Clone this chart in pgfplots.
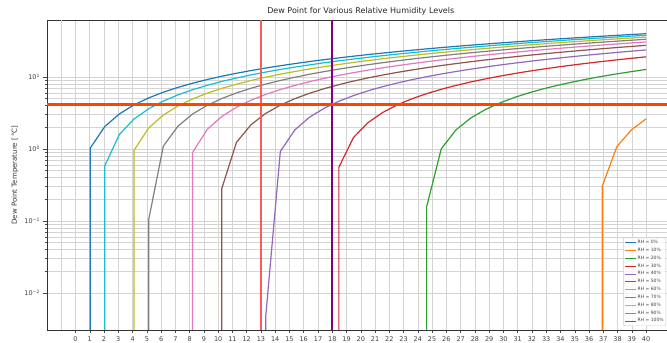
\documentclass[border=0pt]{standalone}
\usepackage{pgfplots}
\pgfplotsset{compat=1.18}
\usepackage{fontspec}
\setmainfont{DejaVu Sans}
\definecolor{c0}{HTML}{1F77B4}
\definecolor{c1}{HTML}{FF7F0E}
\definecolor{c2}{HTML}{2CA02C}
\definecolor{c3}{HTML}{D62728}
\definecolor{c4}{HTML}{9467BD}
\definecolor{c5}{HTML}{8C564B}
\definecolor{c6}{HTML}{E377C2}
\definecolor{c7}{HTML}{7F7F7F}
\definecolor{c8}{HTML}{BCBD22}
\definecolor{c9}{HTML}{17BECF}
\definecolor{vred}{HTML}{FF5A5A}
\definecolor{vpurple}{HTML}{800080}
\definecolor{horange}{HTML}{FF4500}
\begin{document}
\begin{tikzpicture}
\begin{axis}[
  name=ax, scale only axis, width=627.6pt, height=310pt,
  xmin=-2, xmax=42, ymode=log, ymin=0.00306, ymax=62,
  xtick={0,...,40},
  ytick={0.01,0.1,1,10},
  yticklabels={10\textsuperscript{−2},10\textsuperscript{−1},10\textsuperscript{0},10\textsuperscript{1}},
  grid=both,
  major grid style={draw=black!17, line width=0.6pt},
  minor grid style={draw=black!17, line width=0.6pt},
  tick align=outside, tick pos=left,
  major tick length=3.5pt, minor tick length=2pt,
  tick style={black!70, line width=0.5pt},
  axis line style={black!80, line width=0.6pt},
  ticklabel style={font=\fontsize{6.5}{7}\selectfont, text=black!75},
  /pgf/number format/assume math mode=true,
  title={Dew Point for Various Relative Humidity Levels},
  every axis title shift=0pt,
  title style={font=\fontsize{8}{9}\selectfont, text=black!85, at={(axis description cs:0.5,1)}, anchor=south, yshift=1.5pt},
  ylabel={Dew Point Temperature [\,°C]},
  ylabel style={font=\fontsize{7}{8}\selectfont, text=black!80, at={(axis description cs:-0.051,0.5)}, anchor=center},
  legend style={at={(axis description cs:0.918,0.013)}, anchor=south west,
    font=\fontsize{4.5}{5}\selectfont, draw=black!20, rounded corners=1pt,
    fill=white, fill opacity=0.8, text opacity=1, row sep=1.4pt, inner sep=1.5pt,
    nodes={inner sep=0.8pt}, text=black!75},
  legend cell align=left,
  legend image code/.code={\draw[#1, line width=1pt] (0pt,0pt) -- (11pt,0pt);},
  every axis plot/.append style={line width=1.2pt},
]
\addplot[forget plot, black!17, line width=0.6pt] coordinates {(-1,0.001)(-1,100)};
\addlegendimage{c0, line width=1.2pt}
\addlegendentry{RH = 0\%}

\addplot[c1] coordinates {(36.9231,0.0001)(36.9231,0.3024)(37.9487,1.0768)(38.9744,1.8501)(40,2.6236)};
\addlegendentry{RH = 10\%}

\addplot[c2] coordinates {(24.6154,0.0001)(24.6154,0.1579)(25.6410,1.0048)(26.6667,1.8391)(27.6923,2.6810)(28.7179,3.5222)(29.7436,4.3629)(30.7692,5.2030)(31.7949,6.0409)(32.8205,6.8789)(33.8462,7.7168)(34.8718,8.5548)(35.8974,9.3927)(36.9231,10.2280)(37.9487,11.0633)(38.9744,11.8986)(40,12.7339)};
\addlegendentry{RH = 20\%}

\addplot[c3] coordinates {(18.4615,0.0001)(18.4615,0.5574)(19.4872,1.4482)(20.5128,2.3347)(21.5385,3.2208)(22.5641,4.1064)(23.5897,4.9915)(24.6154,5.8759)(25.6410,6.7602)(26.6667,7.6430)(27.6923,8.5257)(28.7179,9.4085)(29.7436,10.2912)(30.7692,11.1740)(31.7949,12.0540)(32.8205,12.9340)(33.8462,13.8140)(34.8718,14.6940)(35.8974,15.5740)(36.9231,16.4520)(37.9487,17.3299)(38.9744,18.2079)(40,19.0858)};
\addlegendentry{RH = 30\%}

\addplot[c4] coordinates {(13.3333,0.0001)(13.3333,0.0047)(14.3590,0.9263)(15.3846,1.8521)(16.4103,2.7708)(17.4359,3.6891)(18.4615,4.6070)(19.4872,5.5243)(20.5128,6.4416)(21.5385,7.3575)(22.5641,8.2734)(23.5897,9.1894)(24.6154,10.1053)(25.6410,11.0212)(26.6667,11.9353)(27.6923,12.8494)(28.7179,13.7635)(29.7436,14.6776)(30.7692,15.5917)(31.7949,16.5035)(32.8205,17.4153)(33.8462,18.3271)(34.8718,19.2389)(35.8974,20.1507)(36.9231,21.0609)(37.9487,21.9711)(38.9744,22.8813)(40,23.7915)};
\addlegendentry{RH = 40\%}

\addplot[c5] coordinates {(10.2564,0.0001)(10.2564,0.2833)(11.2821,1.2369)(12.3077,2.1813)(13.3333,3.1254)(14.3590,4.0692)(15.3846,5.0126)(16.4103,5.9551)(17.4359,6.8976)(18.4615,7.8401)(19.4872,8.7827)(20.5128,9.7252)(21.5385,10.6662)(22.5641,11.6071)(23.5897,12.5481)(24.6154,13.4890)(25.6410,14.4300)(26.6667,15.3695)(27.6923,16.3091)(28.7179,17.2486)(29.7436,18.1882)(30.7692,19.1277)(31.7949,20.0654)(32.8205,21.0031)(33.8462,21.9408)(34.8718,22.8785)(35.8974,23.8162)(36.9231,24.7526)(37.9487,25.6890)(38.9744,26.6254)(40,27.5618)};
\addlegendentry{RH = 50\%}

\addplot[c6] coordinates {(8.2051,0.0001)(8.2051,0.8965)(9.2308,1.8694)(10.2564,2.8347)(11.2821,3.7997)(12.3077,4.7645)(13.3333,5.7288)(14.3590,6.6932)(15.3846,7.6575)(16.4103,8.6209)(17.4359,9.5842)(18.4615,10.5476)(19.4872,11.5109)(20.5128,12.4743)(21.5385,13.4365)(22.5641,14.3987)(23.5897,15.3610)(24.6154,16.3232)(25.6410,17.2854)(26.6667,18.2465)(27.6923,19.2076)(28.7179,20.1688)(29.7436,21.1299)(30.7692,22.0910)(31.7949,23.0506)(32.8205,24.0101)(33.8462,24.9697)(34.8718,25.9292)(35.8974,26.8888)(36.9231,27.8477)(37.9487,28.8066)(38.9744,29.7654)(40,30.7243)};
\addlegendentry{RH = 60\%}

\addplot[c7] coordinates {(5.1282,0.0001)(5.1282,0.1039)(6.1538,1.0944)(7.1795,2.0778)(8.2051,3.0611)(9.2308,4.0442)(10.2564,5.0271)(11.2821,6.0095)(12.3077,6.9919)(13.3333,7.9743)(14.3590,8.9567)(15.3846,9.9391)(16.4103,10.9206)(17.4359,11.9022)(18.4615,12.8837)(19.4872,13.8653)(20.5128,14.8468)(21.5385,15.8275)(22.5641,16.8083)(23.5897,17.7890)(24.6154,18.7698)(25.6410,19.7505)(26.6667,20.7305)(27.6923,21.7105)(28.7179,22.6905)(29.7436,23.6705)(30.7692,24.6505)(31.7949,25.6293)(32.8205,26.6081)(33.8462,27.5869)(34.8718,28.5657)(35.8974,29.5445)(36.9231,30.5227)(37.9487,31.5010)(38.9744,32.4792)(40,33.4574)};
\addlegendentry{RH = 70\%}

\addplot[c8] coordinates {(4.1026,0.0001)(4.1026,0.9612)(5.1282,1.9647)(6.1538,2.9638)(7.1795,3.9627)(8.2051,4.9615)(9.2308,5.9602)(10.2564,6.9588)(11.2821,7.9571)(12.3077,8.9554)(13.3333,9.9537)(14.3590,10.9519)(15.3846,11.9502)(16.4103,12.9479)(17.4359,13.9456)(18.4615,14.9433)(19.4872,15.9410)(20.5128,16.9387)(21.5385,17.9359)(22.5641,18.9331)(23.5897,19.9303)(24.6154,20.9274)(25.6410,21.9246)(26.6667,22.9214)(27.6923,23.9182)(28.7179,24.9150)(29.7436,25.9117)(30.7692,26.9085)(31.7949,27.9045)(32.8205,28.9005)(33.8462,29.8966)(34.8718,30.8926)(35.8974,31.8887)(36.9231,32.8841)(37.9487,33.8795)(38.9744,34.8749)(40,35.8703)};
\addlegendentry{RH = 80\%}

\addplot[c9] coordinates {(2.0513,0.0001)(2.0513,0.5826)(3.0769,1.5982)(4.1026,2.6112)(5.1282,3.6242)(6.1538,4.6372)(7.1795,5.6500)(8.2051,6.6628)(9.2308,7.6757)(10.2564,8.6884)(11.2821,9.7011)(12.3077,10.7136)(13.3333,11.7262)(14.3590,12.7388)(15.3846,13.7513)(16.4103,14.7637)(17.4359,15.7761)(18.4615,16.7884)(19.4872,17.8006)(20.5128,18.8128)(21.5385,19.8250)(22.5641,20.8371)(23.5897,21.8491)(24.6154,22.8611)(25.6410,23.8732)(26.6667,24.8852)(27.6923,25.8974)(28.7179,26.9088)(29.7436,27.9207)(30.7692,28.9329)(31.7949,29.9450)(32.8205,30.9556)(33.8462,31.9674)(34.8718,32.9783)(35.8974,33.9898)(36.9231,35.0010)(37.9487,36.0123)(38.9744,37.0234)(40,38.0346)};
\addlegendentry{RH = 90\%}

\addplot[c0] coordinates {(1.0256,0.0001)(1.0256,1.0256)(2.0513,2.0513)(3.0769,3.0769)(4.1026,4.1026)(5.1282,5.1282)(6.1538,6.1538)(7.1795,7.1795)(8.2051,8.2051)(9.2308,9.2308)(10.2564,10.2564)(11.2821,11.2821)(12.3077,12.3077)(13.3333,13.3333)(14.3590,14.3590)(15.3846,15.3846)(16.4103,16.4103)(17.4359,17.4359)(18.4615,18.4615)(19.4872,19.4872)(20.5128,20.5128)(21.5385,21.5385)(22.5641,22.5641)(23.5897,23.5897)(24.6154,24.6154)(25.6410,25.6410)(26.6667,26.6667)(27.6923,27.6923)(28.7179,28.7179)(29.7436,29.7436)(30.7692,30.7692)(31.7949,31.7949)(32.8205,32.8205)(33.8462,33.8462)(34.8718,34.8718)(35.8974,35.8974)(36.9231,36.9231)(37.9487,37.9487)(38.9744,38.9744)(40,40)};
\addlegendentry{RH = 100\%}

\addplot[forget plot, vred, line width=1.6pt] coordinates {(13,0.001)(13,100)};
\addplot[forget plot, vpurple, line width=2.4pt] coordinates {(18,0.001)(18,100)};
\addplot[forget plot, horange, line width=2.6pt] coordinates {(-2,4.15)(42,4.15)};
\end{axis}
\pgfresetboundingbox
\path[use as bounding box] ([shift={(-47pt,-13pt)}]ax.south west) rectangle ([shift={(-7.6pt,20pt)}]ax.north east);
\end{tikzpicture}
\end{document}
